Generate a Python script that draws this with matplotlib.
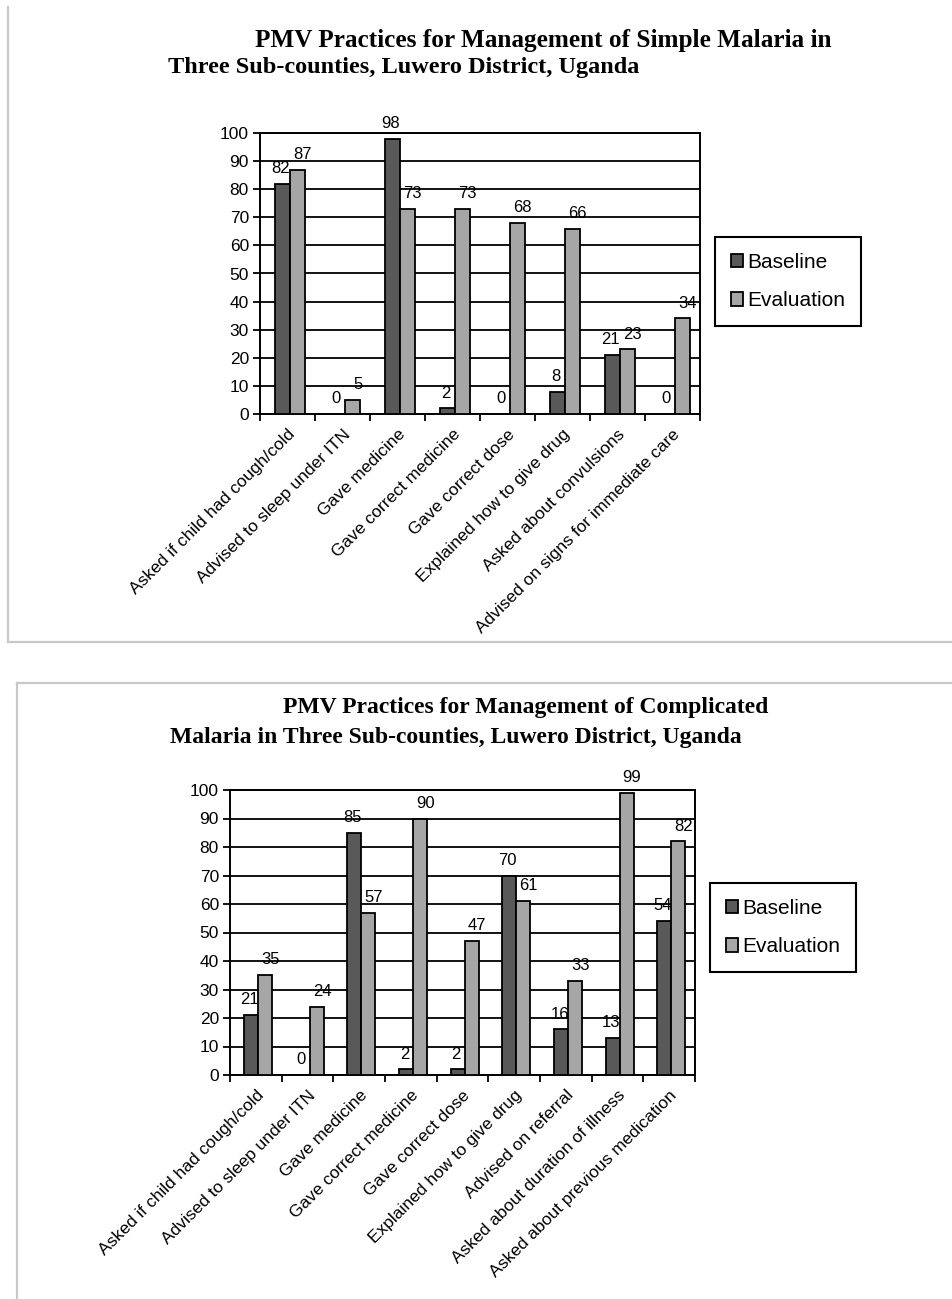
import matplotlib
matplotlib.use("Agg")
import matplotlib.pyplot as plt
from matplotlib.lines import Line2D
from matplotlib.transforms import ScaledTranslation
import numpy as np

plt.rcParams["font.family"] = ["Liberation Sans", "DejaVu Sans"]

# ---- Simple malaria ----
simple_categories = [
    "Asked if child had cough/cold",
    "Advised to sleep under ITN",
    "Gave medicine",
    "Gave correct medicine",
    "Gave correct dose",
    "Explained how to give drug",
    "Asked about convulsions",
    "Advised on signs for immediate care",
]
simple_baseline = [82, 0, 98, 2, 0, 8, 21, 0]
simple_evaluation = [87, 5, 73, 73, 68, 66, 23, 34]

# ---- Complicated malaria ----
complicated_categories = [
    "Asked if child had cough/cold",
    "Advised to sleep under ITN",
    "Gave medicine",
    "Gave correct medicine",
    "Gave correct dose",
    "Explained how to give drug",
    "Advised on referral",
    "Asked about duration of illness",
    "Asked about previous medication",
]
complicated_baseline = [21, 0, 85, 2, 2, 70, 16, 13, 54]
complicated_evaluation = [35, 24, 57, 90, 47, 61, 33, 99, 82]

series_names = ["Baseline", "Evaluation"]
yticks = list(range(0, 101, 10))

BASE_COLOR = "#595959"
EVAL_COLOR = "#a6a6a6"
W, H = 953, 1299

fig = plt.figure(figsize=(W / 100, H / 100), dpi=100)


def fx(px):
    return px / W


def fy(py):
    return 1 - py / H


def draw_panel(rect, cats, base, evals, legend_xy):
    ax = fig.add_axes(rect)
    n = len(cats)
    x = np.arange(n)
    bw = 0.27
    b1 = ax.bar(x - bw / 2 + 0.04, base, bw, color=BASE_COLOR,
                edgecolor="black", linewidth=1.3, label=series_names[0], zorder=3)
    b2 = ax.bar(x + bw / 2 + 0.04, evals, bw, color=EVAL_COLOR,
                edgecolor="black", linewidth=1.3, label=series_names[1], zorder=3)
    # value labels; evaluation labels sit a little to the right of their bars
    for bars, vals, dx in ((b1, base, -1), (b2, evals, 4)):
        for rect_, v in zip(bars, vals):
            ax.annotate(str(v), (rect_.get_x() + rect_.get_width() / 2, v),
                        xytext=(dx, 11), textcoords="offset points",
                        ha="center", va="center", fontsize=12, color="black",
                        zorder=5)
    ax.set_xlim(-0.5, n - 0.5)
    ax.set_ylim(0, 100)
    ax.set_yticks(yticks)
    ax.tick_params(axis="y", labelsize=12.5, length=5, width=1.3, direction="out", pad=3)
    ax.set_xticks(x)
    ax.set_xticklabels(cats, rotation=45, ha="right", va="top",
                       rotation_mode="anchor", fontsize=12.5)
    shift = ScaledTranslation(-5 / 72, 0, fig.dpi_scale_trans)
    for lab in ax.get_xticklabels():
        lab.set_transform(lab.get_transform() + shift)
    ax.tick_params(axis="x", which="major", length=0, pad=9)
    ax.set_xticks(np.arange(-0.5, n, 1.0), minor=True)
    ax.tick_params(axis="x", which="minor", length=5, width=1.3, direction="out")
    ax.yaxis.grid(True, color="black", linewidth=1.3, zorder=0)
    ax.set_axisbelow(True)
    for s in ax.spines.values():
        s.set_linewidth(1.4)
        s.set_color("black")
    leg = ax.legend(loc="upper left", bbox_to_anchor=legend_xy,
                    bbox_transform=fig.transFigure, fontsize=15,
                    frameon=True, fancybox=False, framealpha=1,
                    edgecolor="black", handlelength=0.6, handleheight=0.6,
                    handletextpad=0.2, labelspacing=0.95, borderpad=0.75,
                    borderaxespad=0)
    leg.get_frame().set_linewidth(1.5)
    return ax


# top panel
draw_panel([fx(260), fy(414), fx(700) - fx(260), fy(133) - fy(414)],
           simple_categories, simple_baseline, simple_evaluation,
           (fx(715), fy(237)))
# bottom panel
draw_panel([fx(230), fy(1075), fx(695) - fx(230), fy(790) - fy(1075)],
           complicated_categories, complicated_baseline, complicated_evaluation,
           (fx(710), fy(883)))

title_kw = dict(fontweight="bold", family=["Liberation Serif"],
                va="center", ha="left", color="black")
fig.text(fx(255), fy(40), "PMV Practices for Management of Simple Malaria in",
         fontsize=18.2, **title_kw)
fig.text(fx(168), fy(68), "Three Sub-counties, Luwero District, Uganda",
         fontsize=17.5, **title_kw)
fig.text(fx(283), fy(708), "PMV Practices for Management of Complicated",
         fontsize=17, **title_kw)
fig.text(fx(170), fy(737), "Malaria in Three Sub-counties, Luwero District, Uganda",
         fontsize=17, **title_kw)

# panel frames
frame_kw = dict(color="#c8c8c8", linewidth=1.6, transform=fig.transFigure)
fig.add_artist(Line2D([fx(8), fx(8)], [fy(7), fy(642)], **frame_kw))
fig.add_artist(Line2D([fx(8), fx(953)], [fy(642), fy(642)], **frame_kw))
fig.add_artist(Line2D([fx(17), fx(953)], [fy(683), fy(683)], **frame_kw))
fig.add_artist(Line2D([fx(17), fx(17)], [fy(683), fy(1299)], **frame_kw))

fig.savefig("out.png", dpi=100)
